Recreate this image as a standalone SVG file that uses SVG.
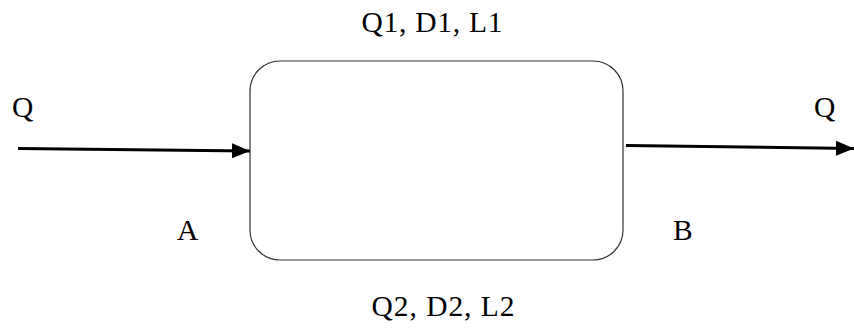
<svg xmlns="http://www.w3.org/2000/svg" width="854" height="333" viewBox="0 0 854 333">
<style>
text{font-family:"Liberation Serif","Times New Roman",serif;font-size:29.5px;fill:#000}
.conn{stroke:#000;stroke-width:3;fill:none}
.box{fill:#fff;stroke:#333;stroke-width:1.2}
</style>
<defs>
<marker id="ah" markerWidth="6" markerHeight="5" refX="6" refY="2.5" orient="auto" markerUnits="strokeWidth"><path d="M0,0 L6,2.5 L0,5 Z" fill="#000"/></marker>
</defs>
<rect width="854" height="333" fill="#fff"/>
<g id="process"><rect class="box" x="250" y="61" width="373" height="199" rx="30" ry="30"/></g>
<g id="connectors">
<line class="conn" x1="18" y1="148.5" x2="250" y2="151" marker-end="url(#ah)"/>
<line class="conn" x1="626" y1="145.5" x2="854" y2="148.5" marker-end="url(#ah)"/>
</g>
<g id="labels">
<text x="432" y="32" text-anchor="middle" textLength="141" lengthAdjust="spacing">Q1, D1, L1</text>
<text x="12" y="117">Q</text>
<text x="814" y="117">Q</text>
<text x="177" y="240">A</text>
<text x="673" y="240">B</text>
<text x="443" y="316" text-anchor="middle" textLength="143" lengthAdjust="spacing">Q2, D2, L2</text>
</g>
</svg>
